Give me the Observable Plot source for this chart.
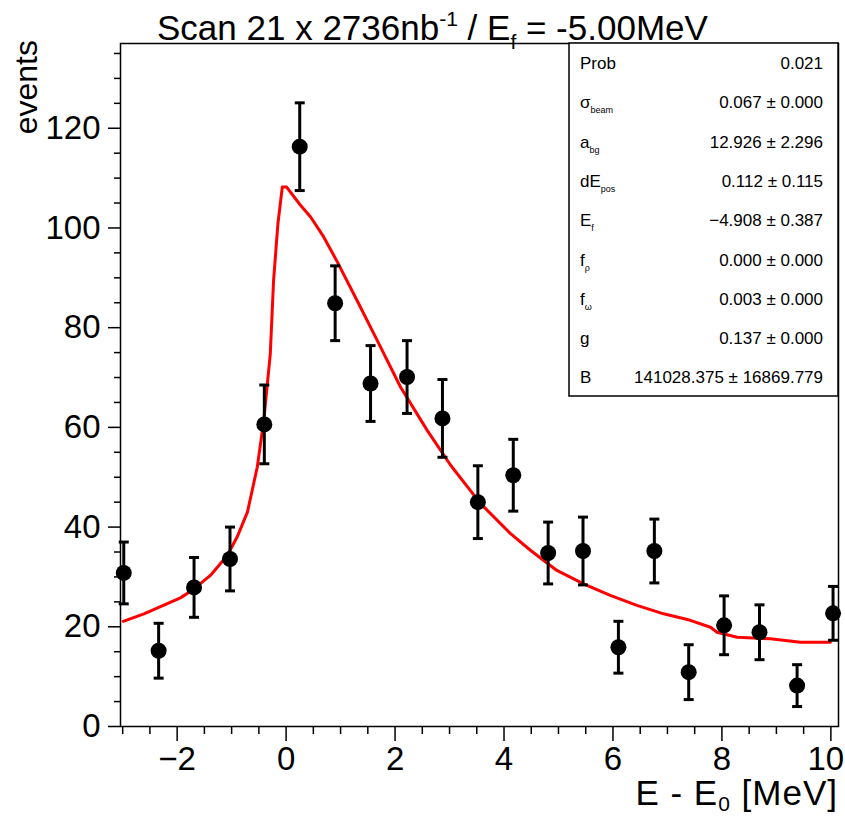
<!DOCTYPE html>
<html><head><meta charset="utf-8">
<script src="https://cdn.jsdelivr.net/npm/d3@7"></script>
<script src="https://cdn.jsdelivr.net/npm/@observablehq/plot@0.6"></script>
<style>
body{margin:0;background:#fff;}
#chart{position:relative;width:845px;height:816px;}
</style>
</head><body><div id="chart"></div>
<script>
// Data points (bin centres, events, symmetric errors)
const binCenters = [-2.98,-2.34,-1.69,-1.03,-0.40,0.25,0.90,1.55,2.22,2.87,3.52,4.17,4.81,5.45,6.10,6.76,7.39,8.04,8.69,9.38,10.04];
const events     = [30.8,15.2,27.9,33.6,60.6,116.3,84.9,68.8,70.1,61.8,45.0,50.4,34.8,35.2,15.9,35.2,10.9,20.3,18.9,8.2,22.7];
const errors     = [6.2,5.5,6.0,6.4,7.9,8.8,7.5,7.6,7.3,7.8,7.3,7.2,6.2,6.8,5.2,6.4,5.5,5.9,5.5,4.2,5.4];

// Fit curve
const fitX = [-2.99,-2.61,-1.94,-1.69,-1.39,-1.08,-0.90,-0.71,-0.53,-0.41,-0.29,-0.23,-0.15,-0.07,0.01,0.26,0.45,0.69,0.94,1.30,1.67,2.10,2.59,3.02,3.57,4.12,4.49,4.97,5.46,5.95,6.44,6.93,7.42,7.79,7.91,8.28,8.89,9.44,9.99];
const fitY = [21.1,22.6,25.8,27.6,30.3,34.3,38.0,43.0,52.0,61.4,74.8,89.5,100.9,108.2,108.2,104.6,102.2,98.2,93.2,85.5,77.5,68.1,59.4,52.4,44.7,38.7,35.3,31.3,28.6,26.3,24.3,22.6,21.3,19.9,18.9,17.9,17.6,16.9,16.9];

// Axes
const xTicks = [-2,0,2,4,6,8,10];
const xMinor = [-3,-2.5,-1.5,-1,-0.5,0.5,1,1.5,2.5,3,3.5,4.5,5,5.5,6.5,7,7.5,8.5,9,9.5];
const yTicks = [0,20,40,60,80,100,120];
const yMinor = [5,10,15,25,30,35,45,50,55,65,70,75,85,90,95,105,110,115,125,130,135];

// Stats box
const statNames = [["Prob",""],["σ","beam"],["a","bg"],["dE","pos"],["E","f"],["f","ρ"],["f","ω"],["g",""],["B",""]];
const statValues = ["0.021","0.067 ± 0.000","12.926 ± 2.296","0.112 ± 0.115","−4.908 ± 0.387","0.000 ± 0.000","0.003 ± 0.000","0.137 ± 0.000","141028.375 ± 16869.779"];

const pts = binCenters.map((x,i)=>({x, y: events[i], lo: events[i]-errors[i], hi: events[i]+errors[i]}));
const fit = fitX.map((x,i)=>({x, y: fitY[i]}));

const hline = {draw(ctx, size){ const w = Math.sqrt(size/Math.PI); ctx.moveTo(-w,0); ctx.lineTo(w,0); }};

const W = 845, H = 816;
const FF = "Liberation Sans, Arial, sans-serif";
const plot = Plot.plot({
  width: W, height: H,
  marginLeft: 120, marginRight: 7, marginTop: 43, marginBottom: 90,
  style: {fontFamily: FF, fontSize: "33px", color: "black", background: "white"},
  x: {domain: [-3.04, 10.14]},
  y: {domain: [0, 137]},
  marks: [
    Plot.axisX({ticks: xMinor, tickSize: 8, tickFormat: () => "", label: null, strokeWidth: 1.5}),
    Plot.axisX({ticks: xTicks, tickSize: 15, tickPadding: 5, label: null, strokeWidth: 1.5}),
    Plot.axisY({ticks: yMinor, tickSize: 6, tickFormat: () => "", label: null, strokeWidth: 1.5}),
    Plot.axisY({ticks: yTicks, tickSize: 12, tickPadding: 8, label: null, strokeWidth: 1.5}),
    Plot.line(fit, {x: "x", y: "y", stroke: "#ff0000", strokeWidth: 3}),
    Plot.ruleX(pts, {x: "x", y1: "lo", y2: "hi", stroke: "black", strokeWidth: 3}),
    Plot.dot(pts, {x: "x", y: "lo", symbol: hline, r: 5, stroke: "black", strokeWidth: 3, fill: "none"}),
    Plot.dot(pts, {x: "x", y: "hi", symbol: hline, r: 5, stroke: "black", strokeWidth: 3, fill: "none"}),
    Plot.dot(pts, {x: "x", y: "y", r: 8, fill: "black", stroke: "none"}),
    Plot.frame({stroke: "black", strokeWidth: 1.5})
  ]
});
document.getElementById("chart").appendChild(plot);

const svg = d3.select(plot);

// keep the last x tick label inside the picture
svg.selectAll("[aria-label='x-axis tick label'] text").filter(function(){ return this.textContent === "10"; })
  .attr("dx", -5);

// Stats box
const box = svg.append("g").attr("font-family", FF).attr("fill", "black");
box.append("rect").attr("x", 569).attr("y", 43).attr("width", 269).attr("height", 353)
  .attr("fill", "white").attr("stroke", "black").attr("stroke-width", 1.5);
statNames.forEach((n, i) => {
  const yy = 69 + i * 39.3;
  const t = box.append("text").attr("x", 580).attr("y", yy).attr("font-size", 17).attr("text-anchor", "start");
  t.append("tspan").text(n[0]);
  if (n[1]) t.append("tspan").attr("font-size", 9).attr("dy", 5).text(n[1]);
  box.append("text").attr("x", 823).attr("y", yy).attr("font-size", 17).attr("text-anchor", "end").text(statValues[i]);
});

// Title
const title = svg.append("text").attr("x", 157).attr("y", 40).attr("text-anchor", "start")
  .attr("font-family", FF).attr("font-size", 35).attr("fill", "black");
title.append("tspan").text("Scan 21 x 2736nb");
title.append("tspan").attr("font-size", 21).attr("dy", -14).text("-1");
title.append("tspan").attr("dy", 14).text(" / E");
title.append("tspan").attr("font-size", 21).attr("dy", 9).text("f");
title.append("tspan").attr("dy", -9).text(" = -5.00MeV");

// Axis labels
svg.append("text").attr("transform", "translate(37,40) rotate(-90)").attr("text-anchor", "end")
  .attr("font-family", FF).attr("font-size", 32).attr("fill", "black").text("events");
const xl = svg.append("text").attr("x", 838).attr("y", 805).attr("text-anchor", "end")
  .attr("font-family", FF).attr("font-size", 35).attr("letter-spacing", 1)
  .attr("fill", "black");
xl.append("tspan").text("E - E");
xl.append("tspan").attr("font-size", 21).attr("dy", 6).text("0");
xl.append("tspan").attr("dy", -6).text(" [MeV]");
</script>
</body></html>
